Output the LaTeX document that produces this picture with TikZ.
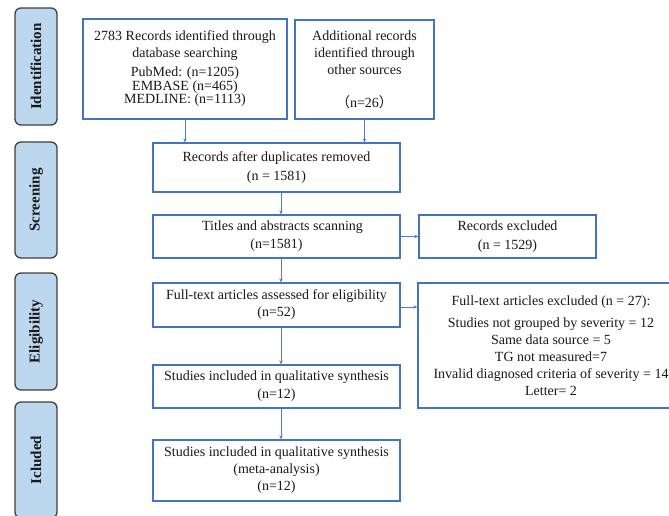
\documentclass[tikz,border=0pt]{standalone}
\usepackage{fontspec}
\setmainfont{Liberation Serif}
\newfontfamily\cjk{Noto Sans CJK SC}
\usetikzlibrary{arrows.meta}
\definecolor{boxblue}{RGB}{68,114,196}
\definecolor{arrblue}{RGB}{80,125,205}
\definecolor{sidefill}{RGB}{189,215,238}
\definecolor{sideline}{RGB}{64,64,64}
\tikzset{
  flowbox/.style={draw=boxblue, line width=1.3pt, rectangle, inner sep=0pt, align=center,
    font=\fontsize{14}{17}\selectfont, text=black!90},
  sidebox/.style={draw=sideline, fill=sidefill, line width=1.3pt, rounded corners=6pt,
    rotate=90, inner sep=0pt, minimum height=42pt, font=\fontsize{15}{17}\selectfont\bfseries, text=black!90},
  conn/.style={draw=arrblue, line width=0.8pt, -{Stealth[length=4pt,width=3.5pt]}}
}
\begin{document}
\begin{tikzpicture}[x=1pt,y=-1pt]
\useasboundingbox (0,0) rectangle (669,515);
\clip (0,0) rectangle (669,515);
\fill[white] (0,0) rectangle (669,515);
% side labels
\node[sidebox, minimum width=117pt] (id) at (36,66.5) {Identification};
\node[sidebox, minimum width=116pt] (scr) at (36,200) {Screening};
\node[sidebox, minimum width=117pt] (elig) at (36,331.5) {Eligibility};
\node[sidebox, minimum width=116pt] (incl) at (36,460) {Icluded};
% main boxes
\node[flowbox, minimum width=204pt, minimum height=100pt] (db) at (185,69)
  {2783 Records identified through\\database searching\\[2pt]PubMed: (n=1205)\\[-3.5pt]EMBASE (n=465)\\[-3.5pt]MEDLINE: (n=1113)};
\node[flowbox, minimum width=139pt, minimum height=99pt] (add) at (364.5,69.5)
  {Additional records\\identified through\\other sources\\[16pt]{\cjk （}n=26{\cjk ）}};
\node[flowbox, minimum width=247pt, minimum height=49pt] (dup) at (276.5,167.5)
  {Records after duplicates removed\\[2pt](n = 1581)};
\node[flowbox, minimum width=247pt, minimum height=43pt] (scan) at (276.5,236.5)
  {\hspace*{12pt}Titles and abstracts scanning\\[1pt](n=1581)};
\node[flowbox, minimum width=177pt, minimum height=43pt] (recex) at (507.5,236.5)
  {Records excluded\\[2pt](n = 1529)};
\node[flowbox, minimum width=247pt, minimum height=44pt] (full) at (276.5,305)
  {Full-text articles assessed for eligibility\\(n=52)};
\node[flowbox, minimum width=266pt, minimum height=125pt] (ftex) at (551,345.5)
  {Full-text articles excluded (n = 27):\\[5pt]Studies not grouped by severity = 12\\Same data source = 5\\TG not measured=7\\Invalid diagnosed criteria of severity = 14\\Letter= 2};
\node[flowbox, minimum width=247pt, minimum height=43pt] (qual) at (276.5,386.5)
  {Studies included in qualitative synthesis\\[1pt](n=12)};
\node[flowbox, minimum width=247pt, minimum height=61pt] (meta) at (276.5,470.5)
  {Studies included in qualitative synthesis\\(meta-analysis)\\(n=12)};
% connectors
\coordinate (ax) at (281,0);
\draw[conn] (db.south) -- (db.south |- dup.north);
\draw[conn] (add.south) -- (add.south |- dup.north);
\draw[conn] (ax |- dup.south) -- (ax |- scan.north);
\draw[conn] (scan.east) -- (scan.east -| recex.west);
\draw[conn] (ax |- scan.south) -- (ax |- full.north);
\draw[conn] ([yshift=-2pt]full.east) -- ([yshift=-2pt]full.east -| ftex.west);
\draw[conn] (ax |- full.south) -- (ax |- qual.north);
\draw[conn] (ax |- qual.south) -- (ax |- meta.north);
\end{tikzpicture}
\end{document}
